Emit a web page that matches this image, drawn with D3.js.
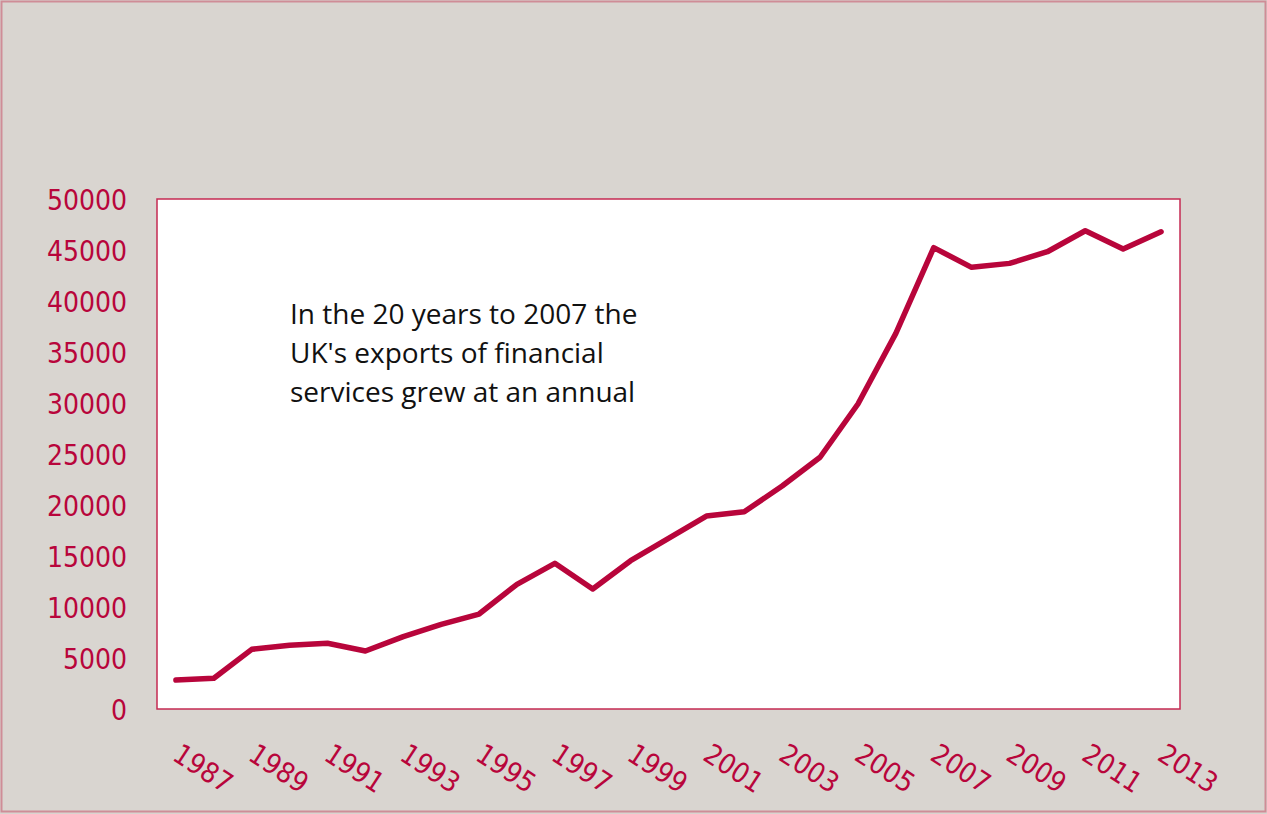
<!DOCTYPE html>
<html>
<head>
<meta charset="utf-8">
<script src="https://cdn.jsdelivr.net/npm/d3@7"></script>
<style>
  body { margin: 0; background: #d9d5d0; }
  .tick text { font-family: "DejaVu Sans Condensed", "DejaVu Sans", sans-serif; font-stretch: condensed; }
</style>
</head>
<body>
<div id="chart"></div>
<script>
// UK exports of financial services, 1987-2013
const years = d3.range(1987, 2014);
const exportsValues = [2840, 3010, 5850, 6240, 6440, 5690, 7090, 8300, 9310, 12220,
  14280, 11760, 14540, 16730, 18920, 19340, 21860, 24680, 29900, 36830,
  45230, 43300, 43690, 44830, 46890, 45100, 46790];
const yTicks = d3.range(0, 50001, 5000);
const xTickLabels = years.filter((y, i) => i % 2 === 0);
const noteLines = ["In the 20 years to 2007 the", "UK's exports of financial", "services grew at an annual"];

const width = 1267, height = 814;
const red = '#b8053b';

let svg = d3.select('#chart')
  .append('svg')
  .attr('width', width)
  .attr('height', height);

// outer frame
svg.append('rect')
  .attr('x', 1.5).attr('y', 1.5)
  .attr('width', width - 3).attr('height', height - 4)
  .attr('fill', '#d9d5d0')
  .attr('stroke', '#cf8d97')
  .attr('stroke-width', 2);

const plot = { left: 157, top: 199, right: 1180, bottom: 709 };

const x = d3.scaleBand()
  .domain(years)
  .range([plot.left, plot.right]);

const y = d3.scaleLinear()
  .domain([0, 50000])
  .range([plot.bottom, plot.top]);

// plot area
svg.append('rect')
  .attr('x', plot.left).attr('y', plot.top)
  .attr('width', plot.right - plot.left)
  .attr('height', plot.bottom - plot.top)
  .attr('fill', '#ffffff')
  .attr('stroke', '#c52a52')
  .attr('stroke-width', 1.5);

// y axis labels
const yAxis = svg.append('g')
  .attr('transform', `translate(${plot.left},0)`)
  .call(d3.axisLeft(y).tickValues(yTicks).tickFormat(d3.format('d')).tickSize(0).tickPadding(30));
yAxis.select('.domain').remove();
yAxis.selectAll('text')
  .attr('fill', red)
  .style('font-size', '28px')
  .attr('dy', '0.36em');

// x axis labels, rotated
const xAxis = svg.append('g')
  .attr('transform', `translate(0,${plot.bottom})`)
  .call(d3.axisBottom(x).tickValues(xTickLabels).tickSize(0));
xAxis.select('.domain').remove();
xAxis.selectAll('text')
  .attr('fill', red)
  .style('font-size', '28px')
  .attr('text-anchor', 'start')
  .attr('y', 0).attr('dy', 0)
  .attr('transform', 'translate(-5,50) rotate(33)');

// the line
const line = d3.line()
  .x((d, i) => x(years[i]) + x.bandwidth() / 2)
  .y(d => y(d));

svg.append('path')
  .datum(exportsValues)
  .attr('d', line)
  .attr('fill', 'none')
  .attr('stroke', red)
  .attr('stroke-width', 5.5)
  .attr('stroke-linejoin', 'round')
  .attr('stroke-linecap', 'round');

// annotation
svg.append('text')
  .attr('x', 290)
  .attr('y', 324)
  .attr('font-family', '"Open Sans", sans-serif')
  .attr('font-size', 28)
  .attr('fill', '#111')
  .selectAll('tspan')
  .data(noteLines)
  .join('tspan')
  .attr('x', 290)
  .attr('dy', (d, i) => i === 0 ? 0 : 39)
  .text(d => d);
</script>
</body>
</html>
